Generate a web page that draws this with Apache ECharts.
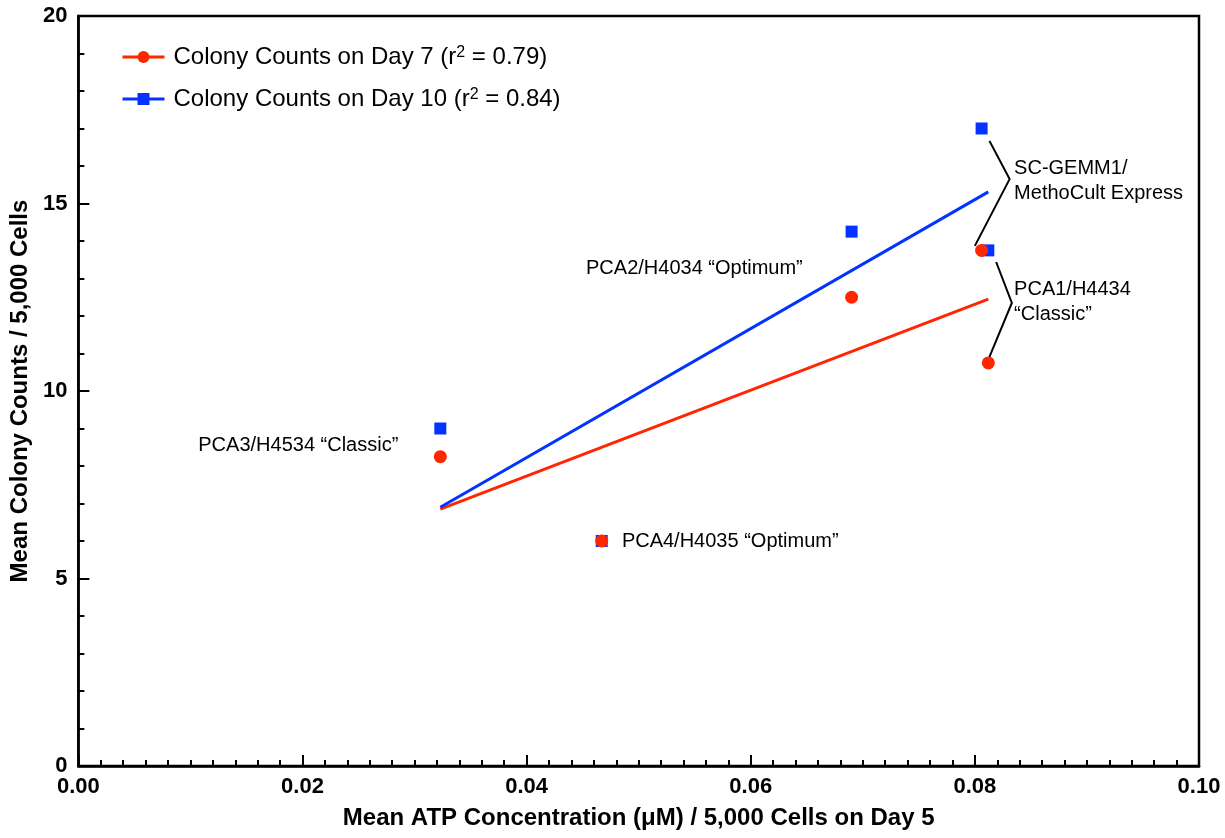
<!DOCTYPE html>
<html><head><meta charset="utf-8">
<script src="https://cdn.jsdelivr.net/npm/echarts@6/dist/echarts.min.js"></script>
<style>html,body{margin:0;padding:0;background:#fff}#c{width:1225px;height:838px}</style>
</head><body><div id="c"></div>
<script>
// ---- data ----
const atpX        = [0.0323, 0.0467, 0.0690, 0.0806, 0.0812];
const day7Counts  = [8.25, 6.0, 12.5, 13.75, 10.75];
const day10Counts = [9.0, 6.0, 14.25, 17.0, 13.75];
const fitX        = [0.0323, 0.0812];
const day7Fit     = [6.85, 12.45];
const day10Fit    = [6.90, 15.31];
const seriesNames = ['Colony Counts on Day 7 (r{sup|2} = 0.79)', 'Colony Counts on Day 10 (r{sup|2} = 0.84)'];
const xTitle = 'Mean ATP Concentration (\u03BCM) / 5,000 Cells on Day 5';
const yTitle = 'Mean Colony Counts / 5,000 Cells';
const annoText = [
  'PCA2/H4034 \u201COptimum\u201D',
  'PCA3/H4534 \u201CClassic\u201D',
  'PCA4/H4035 \u201COptimum\u201D',
  'SC-GEMM1/\nMethoCult Express',
  'PCA1/H4434\n\u201CClassic\u201D'
];
const annoAnchor = [[0.0453, 13.28], [0.0107, 8.56], [0.0485, 6.0], [0.0835, 15.6], [0.0835, 12.37]];
const bracketA = [[0.0813, 16.67], [0.0831, 15.65], [0.0800, 13.87]];
const bracketB = [[0.0819, 13.44], [0.0833, 12.35], [0.0813, 10.91]];

const RED = '#FF2600', BLUE = '#0433FF';
const FONT = '"Liberation Sans", Arial, Helvetica, sans-serif';
const zip = (xs, ys) => xs.map((x, i) => [x, ys[i]]);

const chart = echarts.init(document.getElementById('c'));
const axisCommon = {
  axisLine: {show: true, lineStyle: {color: '#000', width: 2.5}},
  axisTick: {show: true, inside: true, length: 11, lineStyle: {color: '#000', width: 2}},
  minorTick: {show: true, length: 6, lineStyle: {color: '#000', width: 2}},
  splitLine: {show: false},
  nameLocation: 'middle',
  nameTextStyle: {fontFamily: FONT, fontWeight: 'bold', fontSize: 24, color: '#000'}
};
const option = {
  animation: false,
  backgroundColor: '#fff',
  grid: {left: 75, right: 26, top: 16, bottom: 72, show: true, borderColor: '#000', borderWidth: 2.5, containLabel: false},
  legend: {
    show: true, orient: 'vertical', left: 116, top: 40, itemGap: 18, itemWidth: 42, itemHeight: 15,
    data: ['d7', 'd10'],
    lineStyle: {width: 3},
    formatter: n => n === 'd7' ? seriesNames[0] : seriesNames[1],
    textStyle: {fontFamily: FONT, fontSize: 24, color: '#000', padding: [0, 0, 0, 4],
      rich: {sup: {fontFamily: FONT, fontSize: 16, color: '#000', verticalAlign: 'top', padding: [0, 0, 8, 0]}}}
  },
  xAxis: Object.assign({}, axisCommon, {
    type: 'value', min: 0, max: 0.1, interval: 0.02,
    minorTick: Object.assign({}, axisCommon.minorTick, {splitNumber: 10}),
    name: xTitle, nameGap: 40,
    axisLabel: {fontFamily: FONT, fontWeight: 'bold', fontSize: 22, color: '#000', margin: 10, formatter: v => v.toFixed(2)}
  }),
  yAxis: Object.assign({}, axisCommon, {
    type: 'value', min: 0, max: 20, interval: 5,
    minorTick: Object.assign({}, axisCommon.minorTick, {splitNumber: 5}),
    name: yTitle, nameGap: 38,
    axisLabel: {fontFamily: FONT, fontWeight: 'bold', fontSize: 22, color: '#000', margin: 11}
  }),
  series: [
    {name: 'd7', type: 'line', data: zip(fitX, day7Fit), symbol: 'circle', symbolSize: 12, showSymbol: false,
     lineStyle: {color: RED, width: 3}, itemStyle: {color: RED}, z: 2},
    {name: 'd10', type: 'line', data: zip(fitX, day10Fit), symbol: 'rect', symbolSize: 12, showSymbol: false,
     lineStyle: {color: BLUE, width: 3}, itemStyle: {color: BLUE}, z: 2},
    {name: 'd10', type: 'scatter', data: zip(atpX, day10Counts), symbol: 'rect', symbolSize: 12,
     itemStyle: {color: BLUE, opacity: 1}, z: 3},
    {name: 'd7', type: 'scatter', data: zip(atpX, day7Counts), symbol: 'circle', symbolSize: 13,
     itemStyle: {color: RED, opacity: 1}, z: 4}
  ]
};
chart.setOption(option);

const px = p => chart.convertToPixel({gridIndex: 0}, p);
const graphics = [];
[bracketA, bracketB].forEach(b => graphics.push({
  type: 'polyline', shape: {points: b.map(px)},
  style: {stroke: '#000', lineWidth: 2, fill: null}, z: 10
}));
annoText.forEach((t, i) => {
  const p = px(annoAnchor[i]);
  graphics.push({type: 'text', x: p[0], y: p[1], z: 10,
    style: {text: t, fontFamily: FONT, fontSize: 20, fill: '#000', align: 'left', verticalAlign: 'middle', lineHeight: 25}});
});
chart.setOption({graphic: graphics});
</script>
</body></html>
